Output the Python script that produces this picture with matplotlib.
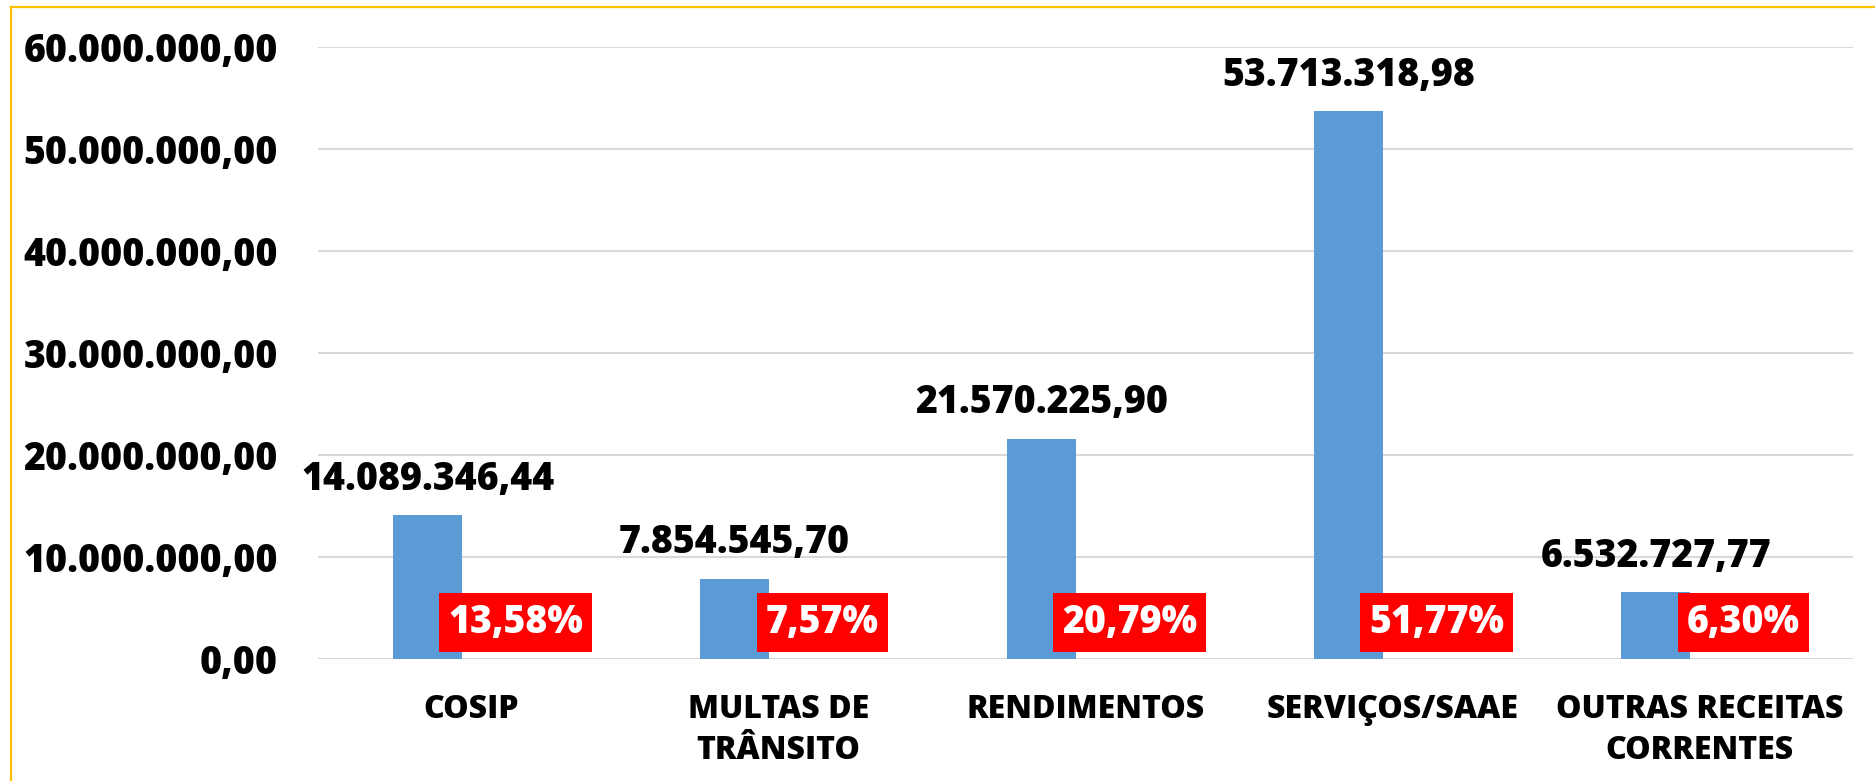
import numpy as np
import matplotlib
matplotlib.use("Agg")
import matplotlib.pyplot as plt
from matplotlib.lines import Line2D
from matplotlib.patches import Rectangle

# data
categorias = ["COSIP", "MULTAS DE\nTRÂNSITO", "RENDIMENTOS", "SERVIÇOS/SAAE",
              "OUTRAS RECEITAS\nCORRENTES"]
valores = [14089346.44, 7854545.70, 21570225.90, 53713318.98, 6532727.77]
percentuais = [13.58, 7.57, 20.79, 51.77, 6.30]
yticks = [0, 10e6, 20e6, 30e6, 40e6, 50e6, 60e6]


def fmt_br(v, casas=2):
    s = f"{v:,.{casas}f}"
    return s.replace(",", "X").replace(".", ",").replace("X", ".")


plt.rcParams['font.family'] = ['Open Sans', 'DejaVu Sans']
PESO = "heavy"

fig = plt.figure(figsize=(18.75, 7.81), dpi=100)
ax = fig.add_axes([0.1696, 0.1562, 0.8187, 0.7836])

x = np.arange(len(categorias))
larg = 0.223
desloc = 0.143

ax.bar(x - desloc, valores, width=larg, color="#5B9BD5", zorder=3)

# value labels above bars
for xi, v in zip(x, valores):
    ax.annotate(fmt_br(v), (xi - desloc, v), xytext=(0, 26), textcoords="offset points",
                ha="center", va="center", fontsize=27, fontweight=PESO, color="black",
                zorder=5)

# percentage labels (red box drawn after measuring the text)
rotulos_pct = []
for xi, p in zip(x, percentuais):
    t = ax.text(xi + desloc, 3.58e6, fmt_br(p) + "%", ha="center", va="center",
                fontsize=27, fontweight=PESO, color="white", zorder=6)
    rotulos_pct.append(t)

ax.set_xlim(-0.5, len(categorias) - 0.5)
ax.set_ylim(0, 60e6)
ax.set_yticks(yticks)
ax.set_yticklabels([fmt_br(t) for t in yticks], fontsize=27, fontweight=PESO)
ax.set_xticks(x)
ax.set_xticklabels(categorias, fontsize=23, fontweight=PESO, linespacing=1.4)
ax.tick_params(axis="y", length=0, pad=29)
ax.tick_params(axis="x", length=0, pad=25)

ax.grid(axis="y", color="#D9D9D9", linewidth=1.5, zorder=0)
ax.set_axisbelow(True)
for s in ax.spines.values():
    s.set_visible(False)

fig.canvas.draw()
rend = fig.canvas.get_renderer()
for t in rotulos_pct:
    bb = t.get_window_extent(rend)
    cx, cy = (bb.x0 + bb.x1) / 2, (bb.y0 + bb.y1) / 2
    w = bb.width + 18
    h = 59
    inv = ax.transData.inverted()
    (dx0, dy0), (dx1, dy1) = inv.transform([(cx - w / 2, cy - h / 2), (cx + w / 2, cy + h / 2)])
    ax.add_patch(Rectangle((dx0, dy0), dx1 - dx0, dy1 - dy0, facecolor="#FF0000",
                           edgecolor="none", zorder=5.5))

# yellow chart frame (cropped on right and bottom)
fig.add_artist(Line2D([11 / 1875, 1.0], [1 - 7 / 781, 1 - 7 / 781], color="#FFC000",
                      linewidth=1.6, transform=fig.transFigure))
fig.add_artist(Line2D([11 / 1875, 11 / 1875], [0.0, 1 - 7 / 781], color="#FFC000",
                      linewidth=1.6, transform=fig.transFigure))

fig.savefig("out.png", dpi=100)
